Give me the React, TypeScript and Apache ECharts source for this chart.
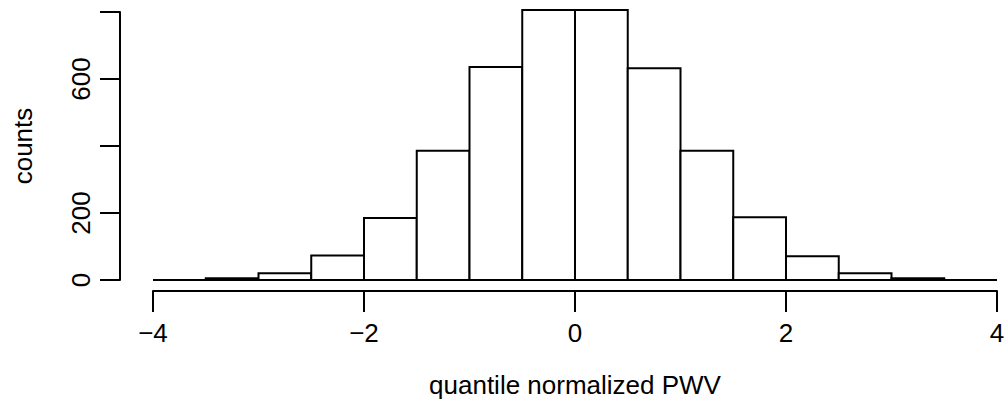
import React, { useEffect, useRef } from "react";
import * as echarts from "echarts";

const binStarts = [-4, -3.5, -3, -2.5, -2, -1.5, -1, -0.5, 0, 0.5, 1, 1.5, 2, 2.5, 3, 3.5];
const binEnds = [-3.5, -3, -2.5, -2, -1.5, -1, -0.5, 0, 0.5, 1, 1.5, 2, 2.5, 3, 3.5, 4];
const counts = [0, 5, 20, 73, 185, 386, 636, 806, 806, 632, 386, 187, 71, 20, 5, 0];
const yTickLabels = ["0", "200", "", "600", ""];
const xTitle = "quantile normalized PWV";
const yTitle = "counts";

const FONT = "'Liberation Sans', Arial, Helvetica, sans-serif";
const FS = 26;

export default function App() {
  const ref = useRef<HTMLDivElement>(null);
  useEffect(() => {
    if (!ref.current) return;
    const chart = echarts.init(ref.current, undefined, { renderer: "svg" });
    const data = counts.map((c, i) => [binStarts[i], binEnds[i], c]);
    chart.setOption({
      animation: false,
      backgroundColor: "#ffffff",
      grid: { left: 153, right: 11, top: 12, bottom: 137, containLabel: false },
      xAxis: {
        type: "value",
        min: -4,
        max: 4,
        interval: 2,
        offset: 11,
        name: xTitle,
        nameLocation: "middle",
        nameGap: 81,
        nameTextStyle: { color: "#000", fontSize: FS, fontFamily: FONT },
        axisLine: { show: true, onZero: false, lineStyle: { color: "#000", width: 2 } },
        axisTick: { show: true, length: 21, lineStyle: { color: "#000", width: 2 } },
        axisLabel: {
          color: "#000",
          fontSize: FS,
          fontFamily: FONT,
          margin: 29,
          formatter: (v: number) => (v < 0 ? "\u2212" + Math.abs(v) : String(v)),
        },
        splitLine: { show: false },
      },
      yAxis: {
        type: "value",
        min: 0,
        max: 800,
        interval: 200,
        offset: 33,
        name: yTitle,
        nameLocation: "middle",
        nameGap: 84,
        nameTextStyle: { color: "#000", fontSize: FS, fontFamily: FONT },
        axisLine: { show: true, onZero: false, lineStyle: { color: "#000", width: 2 } },
        axisTick: { show: true, length: 20, lineStyle: { color: "#000", width: 2 } },
        axisLabel: {
          color: "#000",
          fontSize: FS,
          fontFamily: FONT,
          rotate: 90,
          margin: 26,
          formatter: (v: number) => yTickLabels[Math.round(v / 200)] ?? "",
        },
        splitLine: { show: false },
      },
      series: [
        {
          type: "custom",
          clip: false,
          encode: { x: [0, 1], y: 2 },
          data,
          renderItem: (params: any, api: any) => {
            const x0 = api.value(0);
            const x1 = api.value(1);
            const c = api.value(2);
            const p0 = api.coord([x0, c]);
            const p1 = api.coord([x1, 0]);
            return {
              type: "rect",
              shape: { x: p0[0], y: p0[1], width: p1[0] - p0[0], height: p1[1] - p0[1] },
              style: { fill: "#ffffff", stroke: "#000000", lineWidth: 2 },
            };
          },
        },
      ],
    });
    return () => chart.dispose();
  }, []);
  return (
    <div
      ref={ref}
      style={{ position: "absolute", left: 0, top: 0, width: 1008, height: 417 }}
    />
  );
}
